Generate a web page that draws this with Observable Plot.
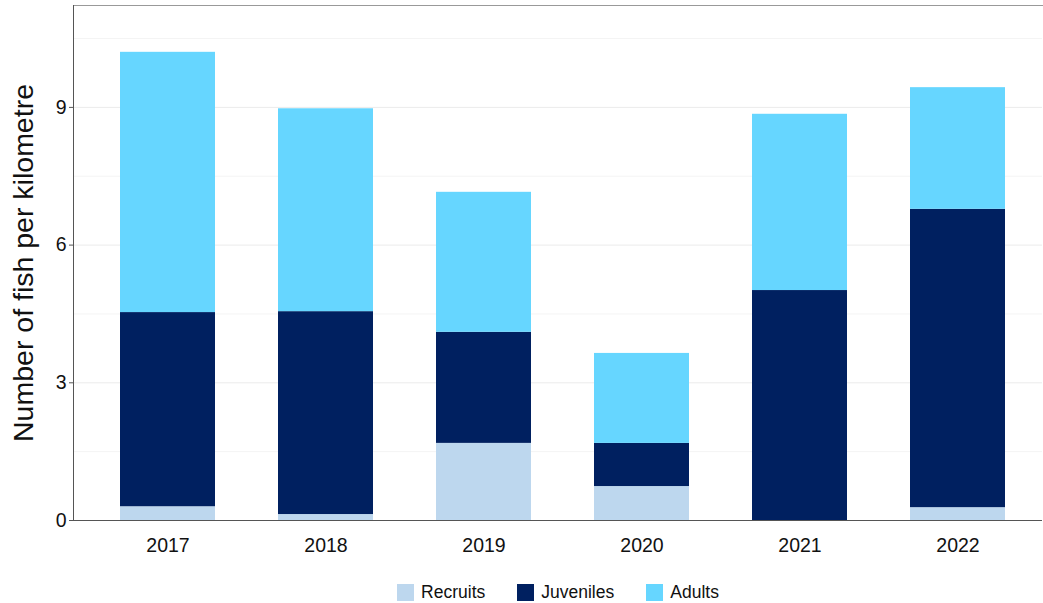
<!DOCTYPE html>
<html><head>
<meta charset="utf-8">
<script src="https://cdn.jsdelivr.net/npm/d3@7"></script>
<script src="https://cdn.jsdelivr.net/npm/@observablehq/plot@0.6"></script>
<style>
body{margin:0;background:#fff;font-family:"Liberation Sans",Arial,sans-serif}
#legend{display:flex;justify-content:center;align-items:center;margin-left:73px;width:970px;height:18px;margin-top:18px;font-size:17.5px;color:#111}
#legend .item{display:flex;align-items:center;margin:0 16px}
#legend .sw{width:17px;height:17px;margin-right:7px}
</style>
</head><body>
<div id="chart"></div>
<div id="legend"></div>
<script>
const years = ["2017","2018","2019","2020","2021","2022"];
const stages = ["Recruits","Juveniles","Adults"];
const colors = ["#BDD7EE","#002060","#66D6FF"];
const recruits = [0.30, 0.13, 1.68, 0.74, 0.00, 0.28];
const juveniles = [4.23, 4.42, 2.42, 0.94, 5.01, 6.50];
const adults = [5.67, 4.42, 3.05, 1.96, 3.84, 2.65];
const yTicks = [0, 3, 6, 9];
const yMinor = [1.5, 4.5, 7.5, 10.5];

const series = [recruits, juveniles, adults];
const data = [];
years.forEach((yr, i) => {
  stages.forEach((s, j) => data.push({year: yr, stage: s, value: series[j][i]}));
});

const chart = Plot.plot({
  width: 1043,
  height: 565,
  marginLeft: 73,
  marginRight: 1,
  marginTop: 5,
  marginBottom: 45,
  style: {fontFamily: "Liberation Sans, Arial, sans-serif", background: "#fff"},
  x: {domain: years, paddingInner: 0.4, paddingOuter: 0.3, range: [71, 1053]},
  y: {domain: [0, 11.22]},
  color: {domain: stages, range: colors},
  marks: [
    Plot.ruleY(yMinor, {stroke: "#F4F4F4", strokeWidth: 1}),
    Plot.ruleY(yTicks.slice(1), {stroke: "#EBEBEB", strokeWidth: 1}),
    Plot.barY(data, {x: "year", y: "value", fill: "stage", order: stages}),
    Plot.axisX({tickSize: 0, tickPadding: 18, fontSize: 19.5, fill: "#111", label: null}),
    Plot.axisY({ticks: yTicks, tickSize: 4, tickPadding: 3, fontSize: 19.5, fill: "#111", stroke: "#555",
      label: "Number of fish per kilometre", labelAnchor: "center", labelArrow: "none", labelOffset: 61}),
    Plot.frame({anchor: "top", stroke: "#999"}),
    Plot.frame({anchor: "left", stroke: "#555"}),
    Plot.ruleY([0], {stroke: "#555"})
  ]
});
chart.querySelectorAll("g[aria-label='y-axis label'] text").forEach(t => {t.style.fontSize = "28.5px"; t.setAttribute("fill", "#111");});
document.getElementById("chart").appendChild(chart);

const lg = document.getElementById("legend");
stages.forEach((s, j) => {
  const it = document.createElement("div"); it.className = "item";
  const sw = document.createElement("div"); sw.className = "sw"; sw.style.background = colors[j];
  const tx = document.createElement("span"); tx.textContent = s;
  it.appendChild(sw); it.appendChild(tx); lg.appendChild(it);
});
</script>
</body></html>
